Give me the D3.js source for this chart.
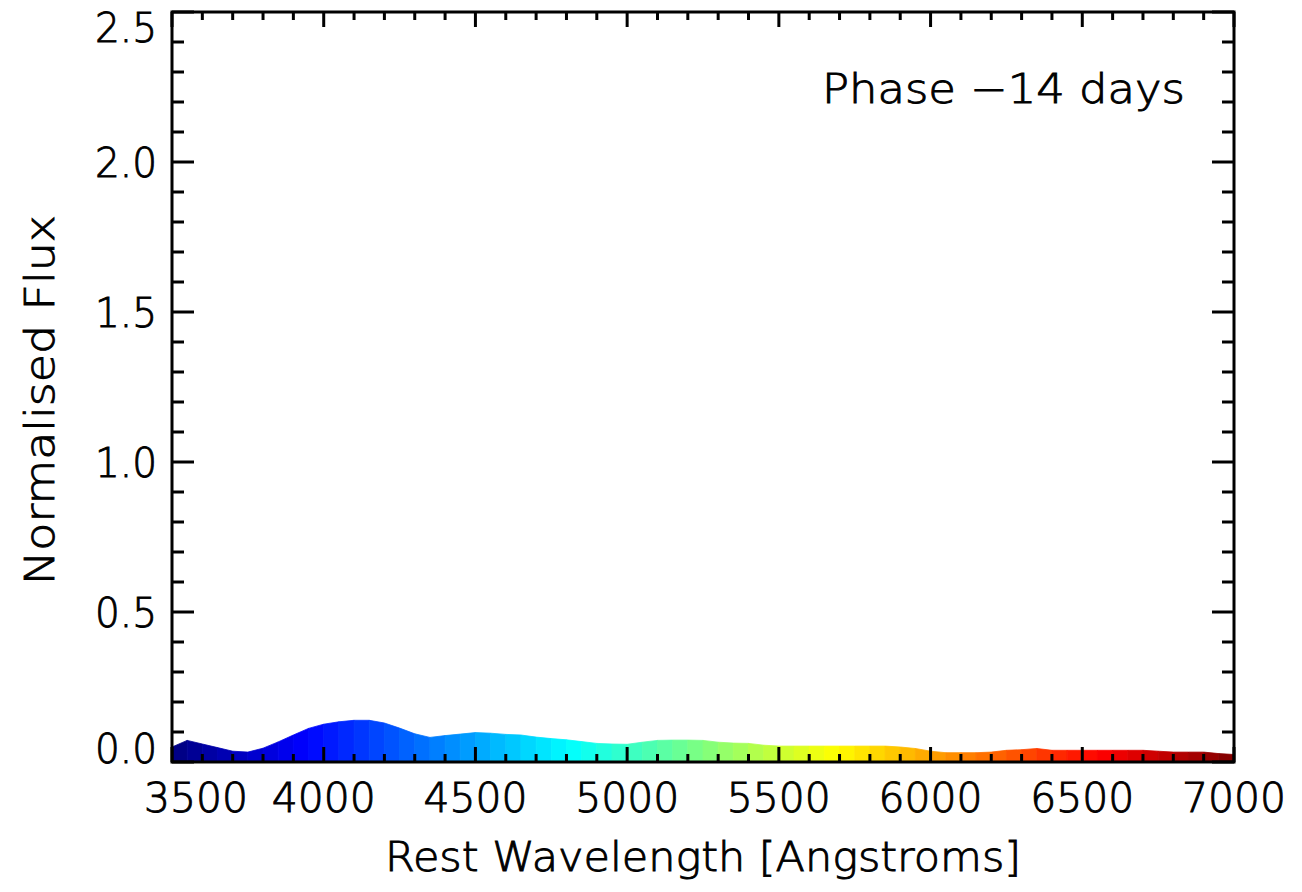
<!DOCTYPE html>
<html>
<head>
<meta charset="utf-8">
<script src="https://cdn.jsdelivr.net/npm/d3@7"></script>
<style>
  html, body { margin: 0; padding: 0; background: #fff; }
  svg { display: block; }
  text { font-family: "DejaVu Sans", "Liberation Sans", sans-serif; font-weight: 200; fill: #000; stroke: #000; stroke-width: 0.9px; }
</style>
</head>
<body>
<svg id="chart" width="1302" height="892"></svg>
<script>
// ---- data ----
const wavelength = [3500,3550,3600,3650,3700,3750,3800,3850,3900,3950,
  4000,4050,4100,4150,4200,4250,4300,4350,4400,4450,
  4500,4550,4600,4650,4700,4750,4800,4850,4900,4950,
  5000,5050,5100,5150,5200,5250,5300,5350,5400,5450,
  5500,5550,5600,5650,5700,5750,5800,5850,5900,5950,
  6000,6050,6100,6150,6200,6250,6300,6350,6400,6450,
  6500,6550,6600,6650,6700,6750,6800,6850,6900,6950,7000];
const flux = [0.050,0.072,0.060,0.048,0.036,0.033,0.046,0.067,0.090,0.112,
  0.126,0.134,0.139,0.139,0.130,0.113,0.094,0.082,0.088,0.093,
  0.098,0.096,0.092,0.090,0.083,0.078,0.074,0.068,0.062,0.060,
  0.059,0.066,0.072,0.073,0.073,0.072,0.066,0.063,0.062,0.056,
  0.053,0.053,0.053,0.053,0.053,0.053,0.053,0.053,0.050,0.045,
  0.036,0.031,0.031,0.031,0.033,0.039,0.041,0.045,0.039,0.039,
  0.039,0.039,0.039,0.039,0.039,0.036,0.033,0.033,0.033,0.028,0.025];
const xTicks = [3500,4000,4500,5000,5500,6000,6500,7000];
const yTicks = [0.0,0.5,1.0,1.5,2.0,2.5];
const xLabel = "Rest Wavelength [Angstroms]";
const yLabel = "Normalised Flux";
const phaseLabel = "Phase \u221214 days";

// ---- layout ----
const L = 172, R = 1234, T = 12, B = 762;
const svg = d3.select("#chart");
const x = d3.scaleLinear().domain([3500, 7000]).range([L, R]);
const y = d3.scaleLinear().domain([0, 2.5]).range([B, T]);

// jet colormap
const jetStops = ["#00007f","#0000ff","#007fff","#00ffff","#7fff7f","#ffff00","#ff7f00","#ff0000","#7f0000"];
const jet = d3.scaleLinear()
  .domain(jetStops.map((_, i) => 3500 + 3500 * i / (jetStops.length - 1)))
  .range(jetStops)
  .interpolate(d3.interpolateRgb);

// filled spectrum, one band per bin
const area = d3.area().x(d => x(d[0])).y0(y(0)).y1(d => y(d[1]));
const g = svg.append("g");
for (let i = 0; i < wavelength.length - 1; i++) {
  const seg = [[wavelength[i], flux[i]], [wavelength[i + 1], flux[i + 1]]];
  const c = jet((wavelength[i] + wavelength[i + 1]) / 2);
  g.append("path")
    .attr("d", area(seg))
    .attr("fill", c)
    .attr("stroke", c)
    .attr("stroke-width", 0.8);
}

// ---- frame & ticks ----
const axG = svg.append("g").attr("stroke", "#000").attr("stroke-width", 3).attr("fill", "none");
axG.append("rect").attr("x", L).attr("y", T).attr("width", R - L).attr("height", B - T);

const xMinor = d3.range(3500, 7001, 100);
xMinor.forEach(v => {
  const major = v % 500 === 0;
  const len = major ? 15 : 8;
  axG.append("line").attr("x1", x(v)).attr("x2", x(v)).attr("y1", B).attr("y2", B - len);
  axG.append("line").attr("x1", x(v)).attr("x2", x(v)).attr("y1", T).attr("y2", T + len);
});
const yMinor = d3.range(0, 26).map(i => i / 10);
yMinor.forEach((v, i) => {
  const major = i % 5 === 0;
  const len = major ? 22 : 12;
  axG.append("line").attr("x1", L).attr("x2", L + len).attr("y1", y(v)).attr("y2", y(v));
  axG.append("line").attr("x1", R).attr("x2", R - len).attr("y1", y(v)).attr("y2", y(v));
});

// ---- tick labels ----
const fs = 40;
xTicks.forEach((v, i) => {
  const cx = i === 0 ? x(v) + 24 : x(v);
  svg.append("text").attr("x", cx).attr("y", 812)
    .attr("text-anchor", "middle").attr("font-size", fs)
    .attr("textLength", 104).attr("lengthAdjust", "spacingAndGlyphs").text(String(v));
});
yTicks.forEach(v => {
  const cy = Math.max(T + 15, Math.min(B - 14, y(v)));
  svg.append("text").attr("x", 157).attr("y", cy + 14.5)
    .attr("text-anchor", "end").attr("font-size", fs)
    .attr("textLength", 62).attr("lengthAdjust", "spacingAndGlyphs").text(v.toFixed(1));
});

// ---- axis titles ----
svg.append("text").attr("x", (L + R) / 2).attr("y", 871)
  .attr("text-anchor", "middle").attr("font-size", fs)
  .attr("textLength", 636).attr("lengthAdjust", "spacingAndGlyphs").text(xLabel);
svg.append("text").attr("transform", `translate(54,${(T + B) / 2 + 13}) rotate(-90)`)
  .attr("text-anchor", "middle").attr("font-size", fs)
  .attr("textLength", 370).attr("lengthAdjust", "spacingAndGlyphs").text(yLabel);

// ---- phase annotation ----
svg.append("text").attr("x", 822).attr("y", 103)
  .attr("font-size", fs)
  .attr("textLength", 363).attr("lengthAdjust", "spacingAndGlyphs").text(phaseLabel);
</script>
</body>
</html>
